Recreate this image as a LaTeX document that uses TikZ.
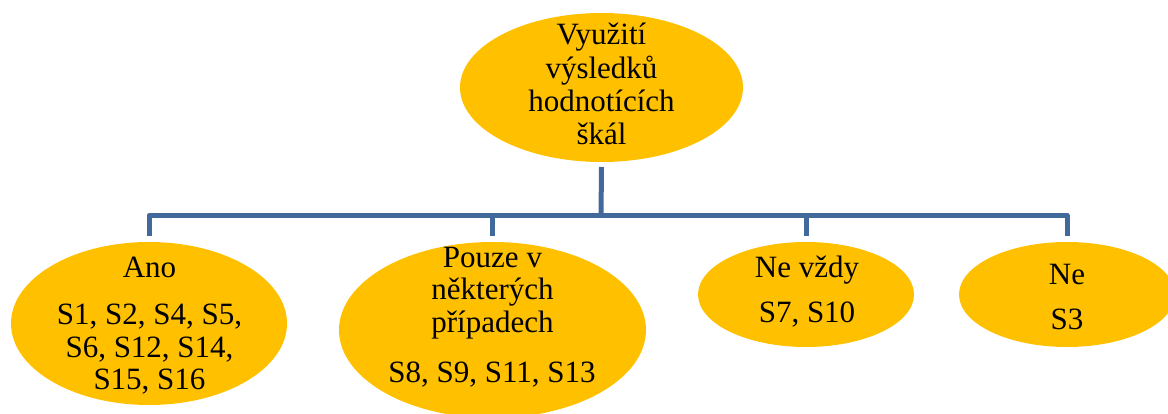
\documentclass[tikz,border=0pt]{standalone}
\usepackage{fontspec}
\setmainfont{Liberation Serif}
\newfontfamily\labelfont{Liberation Serif}
\usetikzlibrary{shapes.geometric}
\definecolor{bubble}{HTML}{FFC000}
\definecolor{link}{HTML}{41699C}
\begin{document}
\begin{tikzpicture}[x=1pt,y=-1pt,
  bubble/.style={ellipse,fill=bubble,draw=none,inner sep=0pt,outer sep=0pt},
  txt/.style={anchor=base,inner sep=0pt,font=\labelfont\fontsize{31}{33}\selectfont},
  conn/.style={draw=link,line width=5pt,line join=round}]
\useasboundingbox (0,0) rectangle (1168,414);
\clip (0,0) rectangle (1168,414);
% ellipses
\node[bubble,minimum width=283pt,minimum height=149pt] (top) at (601.5,87.5) {};
\node[bubble,minimum width=276pt,minimum height=163pt] (ano) at (149,323.5) {};
\node[bubble,minimum width=307pt,minimum height=176pt] (pouze) at (492.5,330) {};
\node[bubble,minimum width=216pt,minimum height=105pt] (nevzdy) at (806,294.5) {};
\node[bubble,minimum width=216pt,minimum height=105pt] (ne) at (1067,294.5) {};
% texts
\node[txt] (t1) at (601.5,45) {Využití};
\node[txt] (t2) at (601.5,79) {výsledků};
\node[txt] (t3) at (601.5,112) {hodnotících};
\node[txt] (t4) at (601.5,145) {škál};
\node[txt] (a1) at (149.5,277) {Ano};
\node[txt] (a2) at (149.5,324) {S1, S2, S4, S5,};
\node[txt] (a3) at (149.5,357) {S6, S12, S14,};
\node[txt] (a4) at (149.5,389) {S15, S16};
\node[txt] (p1) at (492.5,268) {Pouze v};
\node[txt] (p2) at (492.5,300) {některých};
\node[txt] (p3) at (492.5,332) {případech};
\node[txt] (p4) at (492,382) {S8, S9, S11, S13};
\node[txt] (v1) at (807,277) {Ne vždy};
\node[txt] (v2) at (807,323) {S7, S10};
\node[txt] (n1) at (1067,284) {Ne};
\node[txt] (n2) at (1067,330) {S3};
% connectors
\coordinate (bar) at (601,215.5);
\draw[conn] ([yshift=-5pt]top.south) -- (bar);
\draw[conn] ([yshift=6pt]ano.north) |- (bar) -| ([yshift=6pt]ne.north);
\draw[conn] ([yshift=6pt]pouze.north) -- (pouze.north |- bar);
\draw[conn] ([yshift=6pt]nevzdy.north) -- (nevzdy.north |- bar);
\end{tikzpicture}
\end{document}
